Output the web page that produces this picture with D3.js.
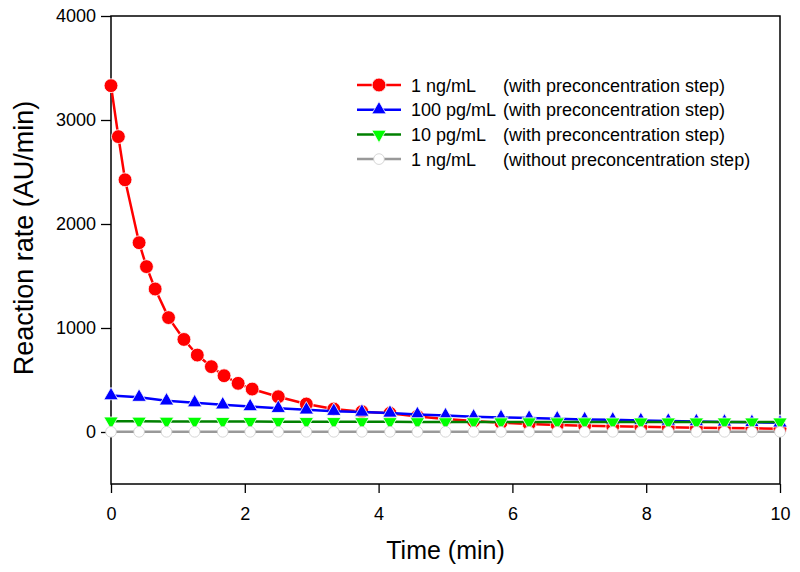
<!DOCTYPE html>
<html>
<head>
<meta charset="utf-8">
<script src="https://cdn.jsdelivr.net/npm/d3@7"></script>
<style>
  html, body { margin: 0; padding: 0; background: #fff; }
  svg { display: block; font-family: "Liberation Sans", Arial, sans-serif; }
</style>
</head>
<body>
<svg id="chart" width="800" height="572"></svg>
<script>
// ---- data ----
const redTimes = [0, 0.11, 0.21, 0.42, 0.53, 0.66, 0.86, 1.09, 1.29, 1.5, 1.69, 1.9, 2.11, 2.5, 2.92, 3.33, 3.75, 4.17, 4.58, 5, 5.42, 5.83, 6.25, 6.67, 7.08, 7.5, 7.92, 8.33, 8.75, 9.17, 9.58, 10];
const redValues = [3330, 2840, 2425, 1820, 1590, 1375, 1100, 890, 740, 628, 541, 468, 413, 339, 269, 221, 195, 180, 150, 125, 105, 90, 78, 68, 60, 55, 50, 46, 42, 38, 35, 32];
const times = [0, 0.42, 0.83, 1.25, 1.67, 2.08, 2.5, 2.92, 3.33, 3.75, 4.17, 4.58, 5, 5.42, 5.83, 6.25, 6.67, 7.08, 7.5, 7.92, 8.33, 8.75, 9.17, 9.58, 10];
const blueValues = [350, 335, 300, 282, 262, 245, 228, 213, 200, 192, 183, 168, 158, 146, 140, 134, 128, 120, 117, 111, 106, 101, 97, 93, 88];
const greenValues = [104, 103, 102, 101, 100, 100, 99, 99, 99, 98, 98, 97, 97, 97, 96, 96, 96, 96, 95, 95, 95, 95, 95, 95, 95];
const grayValues = [2, 2, 2, 2, 2, 2, 2, 2, 2, 2, 2, 2, 2, 2, 2, 2, 2, 2, 2, 2, 2, 2, 2, 2, 2];
const seriesLabels = ["1 ng/mL", "100 pg/mL", "10 pg/mL", "1 ng/mL"];
const seriesNotes = ["(with preconcentration step)", "(with preconcentration step)", "(with preconcentration step)", "(without preconcentration step)"];
const xTicks = [0, 2, 4, 6, 8, 10];
const yTicks = [0, 1000, 2000, 3000, 4000];
const xTitle = "Time (min)";
const yTitle = "Reaction rate (AU/min)";

// ---- layout ----
const svg = d3.select("#chart");
const L = 111, R = 780, T = 16, B = 484;
const x = d3.scaleLinear().domain([0, 10]).range([L, R]);
const y = d3.scaleLinear().domain([-500, 4000]).range([B, T]);

const series = [
  { t: redTimes, v: redValues, line: "#ff0000", fill: "#ff0000", stroke: "#ffffff", sym: "circle", size: 150 },
  { t: times, v: blueValues, line: "#0000ff", fill: "#0000ff", stroke: "#ffffff", sym: "up", size: 90 },
  { t: times, v: greenValues, line: "#008000", fill: "#00ff00", stroke: "#ffffff", sym: "down", size: 90 },
  { t: times, v: grayValues, line: "#999999", fill: "#ffffff", stroke: "#cccccc", sym: "circle", size: 90 }
];

function symPath(s) {
  if (s.sym === "circle") return d3.symbol().type(d3.symbolCircle).size(s.size)();
  return d3.symbol().type(d3.symbolTriangle).size(s.size)();
}

// axes frame
svg.append("rect").attr("x", L).attr("y", T).attr("width", R - L).attr("height", B - T)
  .attr("fill", "none").attr("stroke", "#000").attr("stroke-width", 1.5);

const yAxis = svg.append("g").attr("transform", `translate(${L},0)`)
  .call(d3.axisLeft(y).tickValues(yTicks).tickSize(10).tickPadding(5).tickFormat(d3.format("d")));
yAxis.select(".domain").remove();
yAxis.selectAll("line").attr("stroke-width", 1.3);
yAxis.selectAll("text").attr("font-size", 18).attr("fill", "#000").attr("font-family", "Liberation Sans, Arial, sans-serif");

const xAxis = svg.append("g").attr("transform", `translate(0,${B})`)
  .call(d3.axisBottom(x).tickValues(xTicks).tickSize(9).tickPadding(14).tickFormat(d3.format("d")));
xAxis.select(".domain").remove();
xAxis.selectAll("line").attr("stroke-width", 1.3);
xAxis.selectAll("text").attr("font-size", 18).attr("fill", "#000").attr("font-family", "Liberation Sans, Arial, sans-serif");

// series
const line = d3.line();
series.forEach(s => {
  const pts = s.t.map((t, i) => [x(t), y(s.v[i])]);
  svg.append("path").attr("d", line(pts)).attr("fill", "none")
    .attr("stroke", s.line).attr("stroke-width", 2.5).attr("stroke-linejoin", "round");
  svg.append("g").selectAll("path").data(pts).join("path")
    .attr("d", symPath(s))
    .attr("transform", d => `translate(${d[0]},${d[1]})${s.sym === "down" ? " rotate(180)" : ""}`)
    .attr("fill", s.fill).attr("stroke", s.stroke).attr("stroke-width", 0.8);
});

// titles
svg.append("text").attr("x", (L + R) / 2).attr("y", 559).attr("text-anchor", "middle")
  .attr("font-size", 25).attr("fill", "#000").text(xTitle);
svg.append("text").attr("transform", `translate(33,238) rotate(-90)`).attr("text-anchor", "middle")
  .attr("font-size", 27).attr("fill", "#000").text(yTitle);

// legend
const legX0 = 357, legX1 = 401, legTextX = 411, legNoteX = 503, legY0 = 85, legDy = 24.7;
series.forEach((s, i) => {
  const cy = legY0 + i * legDy;
  const g = svg.append("g");
  g.append("line").attr("x1", legX0).attr("x2", legX1).attr("y1", cy).attr("y2", cy)
    .attr("stroke", s.line).attr("stroke-width", 2.5);
  g.append("path").attr("d", symPath(s))
    .attr("transform", `translate(${(legX0 + legX1) / 2},${cy})${s.sym === "down" ? " rotate(180)" : ""}`)
    .attr("fill", s.fill).attr("stroke", s.stroke).attr("stroke-width", 0.8);
  const lab = g.append("text").attr("x", legTextX).attr("y", cy + 6.5).attr("font-size", 18)
    .attr("fill", "#000").text(seriesLabels[i]);
  const w = lab.node().getComputedTextLength();
  const nx = Math.max(legNoteX, legTextX + w + 5);
  g.append("text").attr("x", nx).attr("y", cy + 6.5).attr("font-size", 18)
    .attr("fill", "#000").text(seriesNotes[i]);
});
</script>
</body>
</html>
